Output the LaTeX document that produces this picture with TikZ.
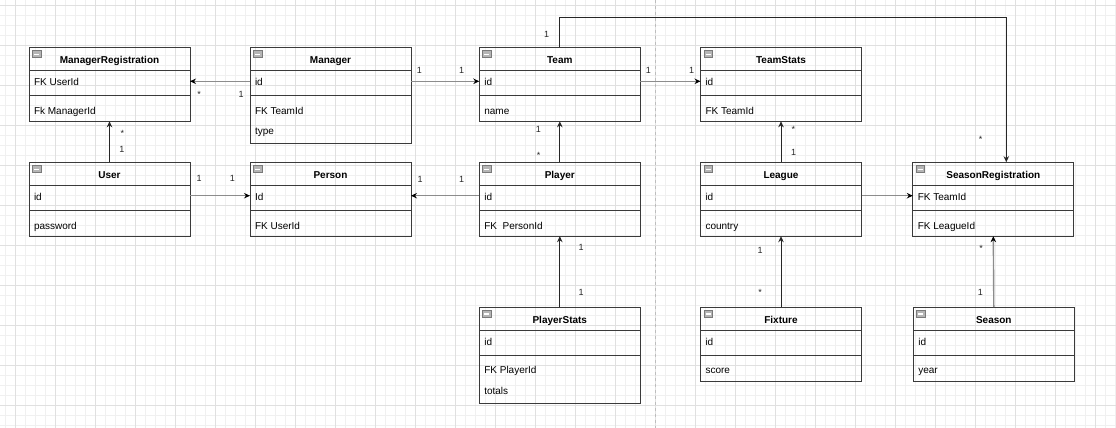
\documentclass[tikz,border=0pt]{standalone}
\usepackage{fontspec}
\setmainfont{Liberation Sans}
\usetikzlibrary{arrows.meta,positioning,shapes.multipart}
\definecolor{Ink}{HTML}{3A3A3A}
\definecolor{Wire}{HTML}{8C8C8C}
\definecolor{GridMinor}{HTML}{F0F0F0}
\definecolor{GridMajor}{HTML}{E0E0E0}
\definecolor{IconFill}{HTML}{B5B5B5}
\definecolor{IconEdge}{HTML}{7A7A7A}
\definecolor{PageLine}{HTML}{BDBDBD}
\newcommand\classhead[1]{\makebox[151pt]{\rule[-7pt]{0pt}{22.5pt}\bfseries #1}}
\newcommand\classattr[1]{\makebox[151pt][l]{\rule[-9.2pt]{0pt}{23.5pt}#1}}
\newcommand\classmeth[1]{\makebox[151pt][l]{\rule[-6.7pt]{0pt}{25pt}#1}}
\newcommand\classmethtwo[2]{\vbox{\offinterlineskip
  \hbox{\makebox[151pt][l]{\rule[-3.5pt]{0pt}{21.8pt}#1}}
  \hbox{\makebox[151pt][l]{\rule[-8pt]{0pt}{25.2pt}#2}}}}
\tikzset{
  classbox/.style={
    rectangle split, rectangle split parts=3, draw=Ink, line width=1pt,
    inner xsep=5pt, inner ysep=0pt, outer sep=0pt, anchor=north west,
    font=\fontsize{10}{12}\selectfont
  },
  minusicon/.style={
    draw=IconEdge, fill=IconFill, minimum width=8.5pt, minimum height=7pt,
    inner sep=0pt, line width=0.6pt,
    path picture={\draw[white,line width=1.2pt]
      ([xshift=1.8pt]path picture bounding box.west) --
      ([xshift=-1.8pt]path picture bounding box.east);}
  },
  link/.style={-{Stealth[length=6pt,width=5.5pt,color=black]}, line width=1.4pt, draw=Wire},
  darklink/.style={-{Stealth[length=6pt,width=5.5pt]}, line width=1pt, draw=black!85},
  mult/.style={font=\fontsize{9}{10}\selectfont, inner sep=0pt, anchor=base, text=black!85}
}
\begin{document}
\begin{tikzpicture}[x=1pt,y=-1pt]
    \useasboundingbox (0,0) rectangle (1116,428);
    \foreach \gx in {5,15,...,1115} \draw[GridMinor,line width=0.6pt] (\gx,0) -- (\gx,428);
    \foreach \gy in {5,15,...,425} \draw[GridMinor,line width=0.6pt] (0,\gy) -- (1116,\gy);
    \foreach \gx in {15,55,...,1115} \draw[GridMajor,line width=0.8pt] (\gx,0) -- (\gx,428);
    \foreach \gy in {5,45,...,425} \draw[GridMajor,line width=0.8pt] (0,\gy) -- (1116,\gy);
    \draw[PageLine,dashed,line width=0.8pt] (655.7,0) -- (655.7,428);

    \node[classbox] (mreg) at (29,47.3)
      {\classhead{ManagerRegistration}\nodepart{two}\classattr{FK UserId}\nodepart{three}\classmeth{Fk ManagerId}};
    \node[classbox,right=60pt of mreg.north east,anchor=north west] (mgr)
      {\classhead{Manager}\nodepart{two}\classattr{id}\nodepart{three}\classmethtwo{FK TeamId}{type}};
    \node[classbox,right=68.3pt of mgr.north east,anchor=north west] (team)
      {\classhead{Team}\nodepart{two}\classattr{id}\nodepart{three}\classmeth{name}};
    \node[classbox,right=60.2pt of team.north east,anchor=north west] (tstats)
      {\classhead{TeamStats}\nodepart{two}\classattr{id}\nodepart{three}\classmeth{FK TeamId}};

    \node[classbox,below=40.9pt of mreg.south west,anchor=north west] (user)
      {\classhead{User}\nodepart{two}\classattr{id}\nodepart{three}\classmeth{password}};
    \node[classbox,right=60pt of user.north east,anchor=north west] (person)
      {\classhead{Person}\nodepart{two}\classattr{Id}\nodepart{three}\classmeth{FK UserId}};
    \node[classbox,right=68.3pt of person.north east,anchor=north west] (player)
      {\classhead{Player}\nodepart{two}\classattr{id}\nodepart{three}\classmeth{FK\ \ PersonId}};
    \node[classbox,right=60.2pt of player.north east,anchor=north west] (league)
      {\classhead{League}\nodepart{two}\classattr{id}\nodepart{three}\classmeth{country}};
    \node[classbox,right=51.3pt of league.north east,anchor=north west] (sreg)
      {\classhead{SeasonRegistration}\nodepart{two}\classattr{FK TeamId}\nodepart{three}\classmeth{FK LeagueId}};

    \node[classbox,below=70.8pt of player.south west,anchor=north west] (pstats)
      {\classhead{PlayerStats}\nodepart{two}\classattr{id}\nodepart{three}\classmethtwo{FK PlayerId}{totals}};
    \node[classbox,right=60.2pt of pstats.north east,anchor=north west] (fixture)
      {\classhead{Fixture}\nodepart{two}\classattr{id}\nodepart{three}\classmeth{score}};
    \node[classbox,right=51.8pt of fixture.north east,anchor=north west] (season)
      {\classhead{Season}\nodepart{two}\classattr{id}\nodepart{three}\classmeth{year}};

    \foreach \c in {mreg,mgr,team,tstats,user,person,player,league,sreg,pstats,fixture,season}
      \node[minusicon] (\c-icon) at ([xshift=7.6pt,yshift=-6.9pt]\c.north west) {};

    % associations
    \draw[link] ([yshift=-34pt]mgr.north west) -- ([yshift=-34pt]mreg.north east);
    \draw[link] ([yshift=-34pt]mgr.north east) -- ([yshift=-34pt]team.north west);
    \draw[link] ([yshift=-34pt]team.north east) -- ([yshift=-34pt]tstats.north west);
    \draw[darklink] (team.north) -- ([yshift=30pt]team.north) -| ([xshift=13pt]sreg.north);
    \draw[darklink] (player.north) -- (team.south);
    \draw[darklink] (user.north) -- (mreg.south);
    \draw[link] ([yshift=-33.5pt]user.north east) -- ([yshift=-33.5pt]person.north west);
    \draw[link] ([yshift=-33.5pt]player.north west) -- ([yshift=-33.5pt]person.north east);
    \draw[darklink] (pstats.north) -- (player.south);
    \draw[darklink] (league.north) -- (tstats.south);
    \draw[link] ([yshift=-33.5pt]league.north east) -- ([yshift=-33.5pt]sreg.north west);
    \draw[darklink] (fixture.north) -- (league.south);
    \draw[link] (season.north) -- (sreg.south);

    % multiplicities
    \node[mult] (ma1) at (199,97.3) {*};
    \node[mult] (ma2) at (241,97.5) {1};
    \node[mult] (mb1) at (419.3,73.2) {1};
    \node[mult] (mb2) at (461.7,73.2) {1};
    \node[mult] (mc1) at (648.3,73.2) {1};
    \node[mult] (mc2) at (691.7,73.2) {1};
    \node[mult] (md1) at (546.7,37.5) {1};
    \node[mult] (md2) at (980.7,142.3) {*};
    \node[mult] (me1) at (538.3,132.5) {1};
    \node[mult] (me2) at (538.7,158.3) {*};
    \node[mult] (mf1) at (122.3,136.7) {*};
    \node[mult] (mf2) at (122,152.5) {1};
    \node[mult] (mg1) at (199,181.5) {1};
    \node[mult] (mg2) at (232.3,181.5) {1};
    \node[mult] (mh1) at (420,182.2) {1};
    \node[mult] (mh2) at (461.7,182.2) {1};
    \node[mult] (mi1) at (581,250.9) {1};
    \node[mult] (mi2) at (581.2,295.5) {1};
    \node[mult] (mj1) at (793.3,132.3) {*};
    \node[mult] (mj2) at (793.7,155.9) {1};
    \node[mult] (ml1) at (760,253.5) {1};
    \node[mult] (ml2) at (760,295.7) {*};
    \node[mult] (mm1) at (981,251) {*};
    \node[mult] (mm2) at (980.4,295.5) {1};
  \end{tikzpicture}
\end{document}
